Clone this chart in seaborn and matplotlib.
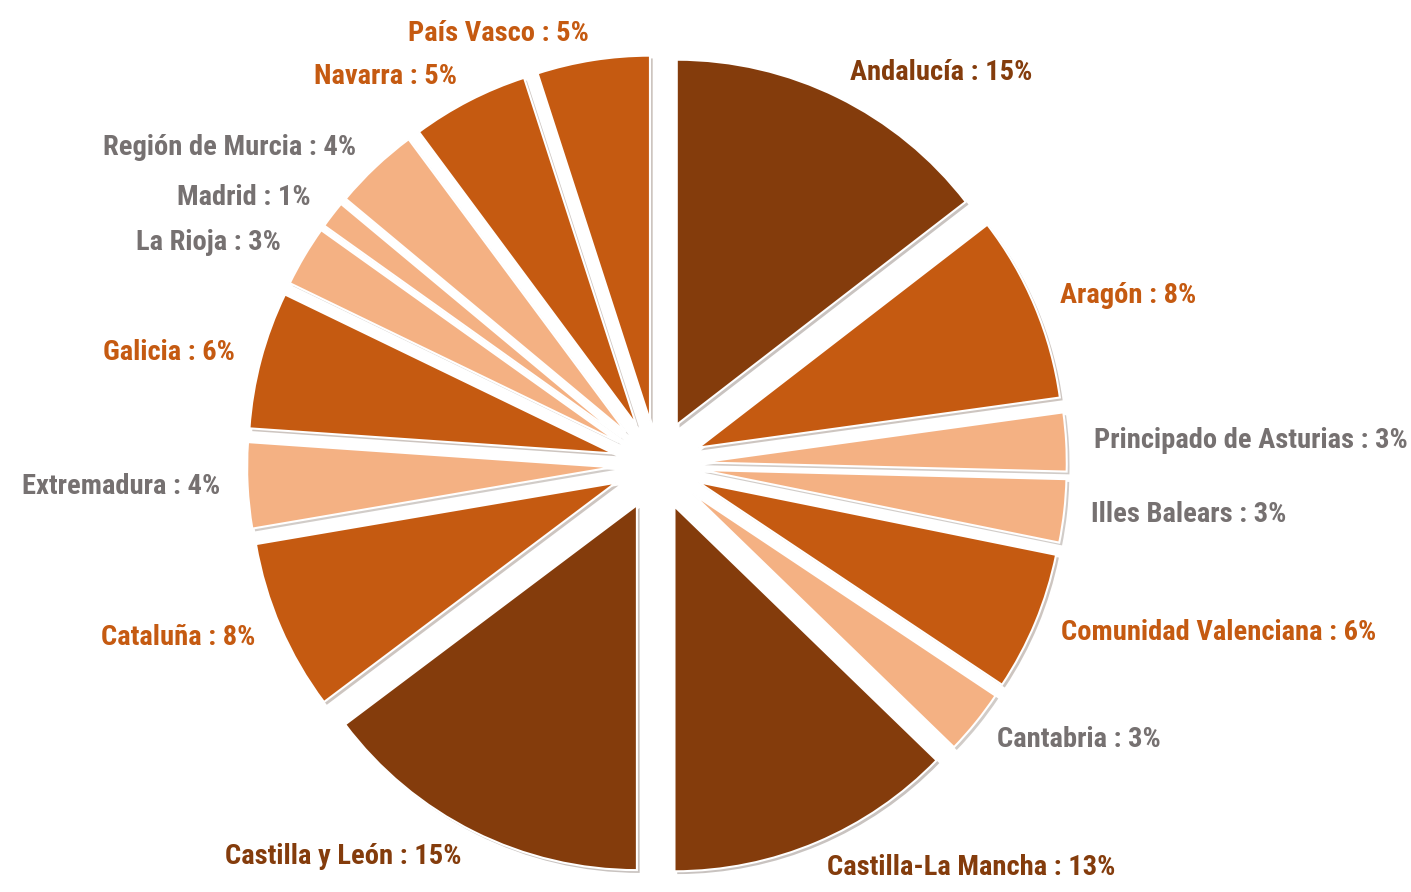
import matplotlib
matplotlib.use("Agg")
import matplotlib.pyplot as plt
import matplotlib.patheffects as pe
from matplotlib import font_manager as fm
import seaborn as sns

regions = ["Andalucía", "Aragón", "Principado de Asturias", "Illes Balears",
           "Comunidad Valenciana", "Cantabria", "Castilla-La Mancha",
           "Castilla y León", "Cataluña", "Extremadura", "Galicia",
           "La Rioja", "Madrid", "Región de Murcia", "Navarra", "País Vasco"]
shares = [14.6, 8.3, 2.6, 2.8, 6.2, 2.9, 12.8, 14.8, 7.6, 3.8, 6.1,
          2.7, 1.2, 3.8, 5.2, 5.0]
tiers = ["dark", "mid", "light", "light", "mid", "light", "dark", "dark",
         "mid", "light", "mid", "light", "light", "light", "mid", "mid"]

sns.set_theme(style="white")
plt.rcParams['font.family'] = ['DejaVu Sans']

# pick a condensed bold face if one is installed
def pick_font():
    cands = []
    for f in fm.fontManager.ttflist:
        name = f.name.lower()
        fname = f.fname.lower()
        narrow = ("narrow" in name or "condensed" in name or "narrow" in fname
                  or "condensed" in fname or str(f.stretch) in ("condensed", "semi-condensed", "extra-condensed"))
        bold = (f.weight in ("bold", 700, "heavy", 800, "semibold", 600)) or "bold" in fname
        if narrow and bold and "oblique" not in fname and "italic" not in fname:
            if "liberation" in fname:
                score = 0
            elif "roboto" in fname:
                score = 1
            elif "open" in fname:
                score = 2
            elif "noto" in fname:
                score = 3
            else:
                score = 4
            cands.append((score, f.fname))
    cands.sort()
    return cands[0][1] if cands else None

font_path = pick_font()
if font_path:
    fprop = fm.FontProperties(fname=font_path, size=20.5)
else:
    fprop = fm.FontProperties(family="DejaVu Sans", weight="bold", stretch="condensed", size=17)

slice_colors = {"dark": "#843C0C", "mid": "#C55A11", "light": "#F4B183"}
text_colors = {"dark": "#843C0C", "mid": "#C55A11", "light": "#767171"}

fig = plt.figure(figsize=(14.11, 8.92), dpi=100)
ax = fig.add_axes([0, 0, 1, 1])

total = sum(shares)
labels = [f"{r} : {round(v / total * 100):.0f}%" for r, v in zip(regions, shares)]

wedges, texts = ax.pie(
    shares, labels=labels, colors=[slice_colors[t] for t in tiers],
    startangle=90, counterclock=False, explode=[0.123] * len(shares),
    labeldistance=1.075, radius=1.0,
    wedgeprops=dict(edgecolor="white", linewidth=1.5))

for w in wedges:
    w.set_path_effects([pe.SimplePatchShadow(offset=(2, -2), alpha=0.25), pe.Normal()])
for t, tier in zip(texts, tiers):
    t.set_fontproperties(fprop)
    t.set_color(text_colors[tier])
    t.set_va("center")

ax.set_aspect("auto")
ax.set_xlim(-1.8, 2.066)
ax.set_ylim(-1.17, 1.274)
ax.axis("off")

fig.savefig("out.png", dpi=100, facecolor="white")
